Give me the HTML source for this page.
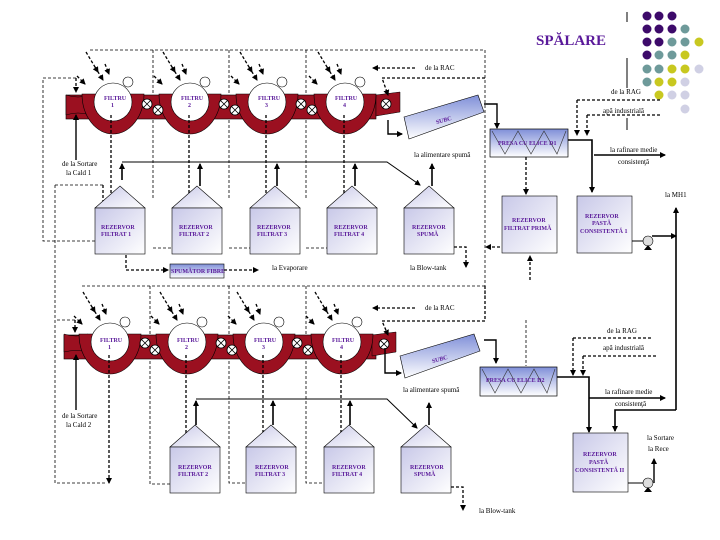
<!DOCTYPE html>
<html><head><meta charset="utf-8"><style>
html,body{margin:0;padding:0;background:#fff;}
svg{display:block;font-family:"Liberation Serif",serif;}
.t{font-size:7px;fill:#000;}
.p{font-size:6px;fill:#5a1a9a;font-weight:bold;}
</style></head><body>
<svg width="720" height="540" viewBox="0 0 720 540" xmlns="http://www.w3.org/2000/svg">
<defs>
<marker id="a" markerWidth="6" markerHeight="6" refX="5" refY="3" orient="auto" markerUnits="userSpaceOnUse"><path d="M0,0 L6,3 L0,6 Z" fill="#000"/></marker>
<linearGradient id="g" x1="0" y1="0" x2="1" y2="1"><stop offset="0" stop-color="#c8c8e8"/><stop offset="1" stop-color="#fff"/></linearGradient>
<linearGradient id="gb" x1="0" y1="0" x2="0" y2="1"><stop offset="0" stop-color="#7f8fd8"/><stop offset="1" stop-color="#fff"/></linearGradient>
<g id="valve"><circle r="5" fill="#fff" stroke="#000" stroke-width="0.8"/><path d="M-3.5,-3.5L3.5,3.5M3.5,-3.5L-3.5,3.5" stroke="#000" stroke-width="0.8"/></g>
<g id="drum">
<path d="M-31,-8 A31,40 0 0 0 31,-8 Z" fill="#9b1020" stroke="#000" stroke-width="0.6"/>
<circle cx="0" cy="0" r="19" fill="#fff" stroke="#000" stroke-width="0.6"/>
<circle cx="15" cy="-20" r="5" fill="#fff" stroke="#000" stroke-width="0.6"/>
<g stroke="#000" stroke-width="1.3" stroke-dasharray="3,2" fill="none">
<path d="M-27,-50 L-15,-30" marker-end="url(#a)"/><path d="M-18,-35 L-10,-22" marker-end="url(#a)"/><path d="M-8,-38 L-4,-28" marker-end="url(#a)"/><path d="M-36,-26 L-28,-18" marker-end="url(#a)"/></g>
</g>
<g id="tank"><path d="M0,22 L25,0 L50,22 Z" fill="url(#g)" stroke="#000" stroke-width="0.6"/><rect x="0" y="22" width="50" height="46" fill="url(#g)" stroke="#000" stroke-width="0.6"/></g>
</defs>

<text x="536" y="45" style="font-size:15px;font-weight:bold;fill:#5a1a9a">SPĂLARE</text>
<path d="M627,12V22M627,58V88M627,118V130" stroke="#000"/>
<g>
<circle cx="647" cy="16" r="4.5" fill="#3d0a6a"/><circle cx="659" cy="16" r="4.5" fill="#3d0a6a"/><circle cx="672" cy="16" r="4.5" fill="#3d0a6a"/>
<circle cx="647" cy="29" r="4.5" fill="#3d0a6a"/><circle cx="659" cy="29" r="4.5" fill="#3d0a6a"/><circle cx="672" cy="29" r="4.5" fill="#3d0a6a"/><circle cx="685" cy="29" r="4.5" fill="#6e9a9a"/>
<circle cx="647" cy="42" r="4.5" fill="#3d0a6a"/><circle cx="659" cy="42" r="4.5" fill="#3d0a6a"/><circle cx="672" cy="42" r="4.5" fill="#6e9a9a"/><circle cx="685" cy="42" r="4.5" fill="#6e9a9a"/><circle cx="699" cy="42" r="4.5" fill="#c8c820"/>
<circle cx="647" cy="55" r="4.5" fill="#3d0a6a"/><circle cx="659" cy="55" r="4.5" fill="#6e9a9a"/><circle cx="672" cy="55" r="4.5" fill="#6e9a9a"/><circle cx="685" cy="55" r="4.5" fill="#c8c820"/>
<circle cx="647" cy="69" r="4.5" fill="#6e9a9a"/><circle cx="659" cy="69" r="4.5" fill="#6e9a9a"/><circle cx="672" cy="69" r="4.5" fill="#c8c820"/><circle cx="685" cy="69" r="4.5" fill="#c8c820"/><circle cx="699" cy="69" r="4.5" fill="#d0d0e4"/>
<circle cx="647" cy="82" r="4.5" fill="#6e9a9a"/><circle cx="659" cy="82" r="4.5" fill="#c8c820"/><circle cx="672" cy="82" r="4.5" fill="#c8c820"/><circle cx="685" cy="82" r="4.5" fill="#d0d0e4"/>
<circle cx="659" cy="95" r="4.5" fill="#c8c820"/><circle cx="672" cy="95" r="4.5" fill="#d0d0e4"/><circle cx="685" cy="95" r="4.5" fill="#d0d0e4"/>
<circle cx="685" cy="109" r="4.5" fill="#d0d0e4"/>
</g>

<g stroke="#000" stroke-width="0.8" stroke-dasharray="3,2" fill="none">
<path d="M90,50 H485 V300"/><path d="M153,50V200"/><path d="M229,50V200"/><path d="M306,50V200"/>
<path d="M76,78 H43 V241 H100"/><path d="M55,185V320"/><path d="M55,185H105"/>
<path d="M153,248H172M229,248H250M306,248H327"/>
</g>
<rect x="66" y="95" width="310" height="24" fill="#9b1020" stroke="#000" stroke-width="0.6"/>
<path d="M66,95 Q78,99 90,95 V115 Q78,111 66,115 Z" fill="#9b1020" stroke="#000" stroke-width="0.5"/>
<path d="M376,95 L400,92 V112 L376,116 Z" fill="#9b1020" stroke="#000" stroke-width="0.5"/>
<use href="#drum" x="113" y="102"/><use href="#drum" x="190" y="102"/><use href="#drum" x="267" y="102"/><use href="#drum" x="345" y="102"/>
<use href="#valve" x="147" y="104"/><use href="#valve" x="158" y="110"/><use href="#valve" x="224" y="104"/><use href="#valve" x="235" y="110"/><use href="#valve" x="301" y="104"/><use href="#valve" x="312" y="110"/><use href="#valve" x="386" y="104"/>
<text class="p" x="104" y="100">FILTRU</text><text class="p" x="111" y="107">1</text>
<text class="p" x="181" y="100">FILTRU</text><text class="p" x="188" y="107">2</text>
<text class="p" x="258" y="100">FILTRU</text><text class="p" x="265" y="107">3</text>
<text class="p" x="335" y="100">FILTRU</text><text class="p" x="343" y="107">4</text>
<g stroke="#000" stroke-width="1.3" stroke-dasharray="3,2" fill="none">
<path d="M415,68H373" marker-end="url(#a)"/><path d="M485,78H382L388,95" marker-end="url(#a)"/>
<path d="M76,78V92" marker-end="url(#a)"/>
<path d="M111,115V245" marker-end="url(#a)"/><path d="M103,185V245" marker-end="url(#a)"/>
<path d="M189,115V245" marker-end="url(#a)"/><path d="M266,115V245" marker-end="url(#a)"/><path d="M344,115V245" marker-end="url(#a)"/>
<path d="M126,255V270H168" marker-end="url(#a)"/><path d="M224,270H258" marker-end="url(#a)"/>
<path d="M454,247H466V267" marker-end="url(#a)"/>
<path d="M526,157V194" marker-end="url(#a)"/><path d="M530,280V256" marker-end="url(#a)"/><path d="M500,247H486" marker-end="url(#a)"/>
<path d="M577,100V135" marker-end="url(#a)"/><path d="M587,115H662M587,115V135" marker-end="url(#a)"/>
<path d="M577,100H662"/>
</g>
<text class="t" x="425" y="70">de la RAC</text>
<use href="#tank" x="95" y="186"/><use href="#tank" x="172" y="186"/><use href="#tank" x="250" y="186"/><use href="#tank" x="327" y="186"/><use href="#tank" x="404" y="186"/>
<text class="p" x="101" y="229">REZERVOR</text><text class="p" x="101" y="236">FILTRAT 1</text>
<text class="p" x="179" y="229">REZERVOR</text><text class="p" x="179" y="236">FILTRAT 2</text>
<text class="p" x="257" y="229">REZERVOR</text><text class="p" x="257" y="236">FILTRAT 3</text>
<text class="p" x="334" y="229">REZERVOR</text><text class="p" x="334" y="236">FILTRAT 4</text>
<text class="p" x="412" y="229">REZERVOR</text><text class="p" x="417" y="236">SPUMĂ</text>
<g stroke="#000" stroke-width="1" fill="none">
<path d="M122,162H387L420,185" marker-end="url(#a)"/>
<path d="M122,180V164" stroke-width="1.6" marker-end="url(#a)"/><path d="M200,186V164" stroke-width="1.6" marker-end="url(#a)"/><path d="M277,186V164" stroke-width="1.6" marker-end="url(#a)"/><path d="M355,186V164" stroke-width="1.6" marker-end="url(#a)"/>
<path d="M432,186V164" stroke-width="1.6" marker-end="url(#a)"/>
<path d="M76,160V115" stroke-width="1.4" marker-end="url(#a)"/>
<path d="M388,120V134H402" stroke-width="1.4" marker-end="url(#a)"/>
<path d="M484,104H497V128" stroke-width="1.4" marker-end="url(#a)"/>
<path d="M568,140H592V192" stroke-width="1.6" marker-end="url(#a)"/>
<path d="M594,155H665" stroke-width="1.4" marker-end="url(#a)"/>
<path d="M632,241H645"/><path d="M652,236H676" stroke-width="1.4" marker-end="url(#a)"/>
<path d="M676,410V208" stroke-width="1.6" marker-end="url(#a)"/>
</g>
<polygon points="404,117 478,95 484,112 409,139" fill="url(#gb)" stroke="#000" stroke-width="0.6"/>
<text class="p" x="435" y="123" transform="rotate(-16 440 118)">SUBC</text>
<rect x="490" y="129" width="78" height="28" fill="url(#gb)" stroke="#000" stroke-width="0.7"/>
<path d="M492,131 L505,154 L518,131 L531,154 L544,131 L557,154 L566,131" stroke="#333" stroke-width="0.6" fill="none"/>
<text class="p" x="498" y="145">PRESA CU ELICE D1</text>
<rect x="502" y="196" width="55" height="57" fill="url(#g)" stroke="#000" stroke-width="0.6"/>
<text class="p" x="512" y="222">REZERVOR</text><text class="p" x="504" y="230">FILTRAT PRIMĂ</text>
<rect x="577" y="196" width="55" height="57" fill="url(#g)" stroke="#000" stroke-width="0.6"/>
<text class="p" x="585" y="218">REZERVOR</text><text class="p" x="592" y="225">PASTĂ</text><text class="p" x="580" y="233">CONSISTENTĂ 1</text>
<circle cx="648" cy="241" r="5" fill="#ddd" stroke="#000" stroke-width="0.6"/><path d="M644,250 L648,245 L652,250Z" fill="#000"/>
<rect x="170" y="264" width="54" height="14" fill="url(#gb)" stroke="#000" stroke-width="0.6"/>
<text class="p" x="171" y="273">SPUMĂTOR FIBRE</text>
<text class="t" x="272" y="270">la Evaporare</text>
<text class="t" x="410" y="270">la Blow-tank</text>
<text class="t" x="611" y="94">de la RAG</text>
<text class="t" x="603" y="113">apă industrială</text>
<text class="t" x="610" y="152">la rafinare medie</text><text class="t" x="618" y="164">consistenţă</text>
<text class="t" x="414" y="157">la alimentare spumă</text>
<text class="t" x="62" y="166">de la Sortare</text><text class="t" x="66" y="175">la Cald 1</text>
<text class="t" x="665" y="197">la MH1</text>

<g stroke="#000" stroke-width="0.8" stroke-dasharray="3,2" fill="none">
<path d="M82,286H485"/><path d="M150,286V484H170"/><path d="M229,286V483H246"/><path d="M306,286V483H324"/>
<path d="M75,320H55V483H106"/>
<path d="M526,320V366"/>
</g>
<rect x="64" y="335" width="312" height="24" fill="#9b1020" stroke="#000" stroke-width="0.6"/>
<path d="M64,334 Q76,338 88,334 V352 Q76,349 64,352 Z" fill="#9b1020" stroke="#000" stroke-width="0.5"/>
<path d="M372,335 L396,332 V352 L372,356 Z" fill="#9b1020" stroke="#000" stroke-width="0.5"/>
<use href="#drum" x="110" y="342"/><use href="#drum" x="187" y="342"/><use href="#drum" x="264" y="342"/><use href="#drum" x="342" y="342"/>
<use href="#valve" x="145" y="343"/><use href="#valve" x="155" y="350"/><use href="#valve" x="221" y="343"/><use href="#valve" x="232" y="350"/><use href="#valve" x="297" y="343"/><use href="#valve" x="308" y="350"/><use href="#valve" x="384" y="344"/>
<text class="p" x="100" y="342">FILTRU</text><text class="p" x="108" y="349">1</text>
<text class="p" x="177" y="342">FILTRU</text><text class="p" x="185" y="349">2</text>
<text class="p" x="254" y="342">FILTRU</text><text class="p" x="262" y="349">3</text>
<text class="p" x="332" y="342">FILTRU</text><text class="p" x="340" y="349">4</text>
<g stroke="#000" stroke-width="1.3" stroke-dasharray="3,2" fill="none">
<path d="M415,308H373" marker-end="url(#a)"/><path d="M485,286V321H382L388,335" marker-end="url(#a)"/>
<path d="M75,320V332" marker-end="url(#a)"/>
<path d="M109,355V483" marker-end="url(#a)"/>
<path d="M186,355V488" marker-end="url(#a)"/><path d="M263,355V488" marker-end="url(#a)"/><path d="M341,355V488" marker-end="url(#a)"/>
<path d="M451,487H463V510" marker-end="url(#a)"/>
<path d="M573,338H653M573,338V375" marker-end="url(#a)"/>
<path d="M583,356H656M583,356V375" marker-end="url(#a)"/>
</g>
<text class="t" x="425" y="310">de la RAC</text>
<use href="#tank" x="170" y="425"/><use href="#tank" x="246" y="425"/><use href="#tank" x="324" y="425"/><use href="#tank" x="401" y="425"/>
<text class="p" x="178" y="469">REZERVOR</text><text class="p" x="178" y="476">FILTRAT 2</text>
<text class="p" x="255" y="469">REZERVOR</text><text class="p" x="255" y="476">FILTRAT 3</text>
<text class="p" x="332" y="469">REZERVOR</text><text class="p" x="332" y="476">FILTRAT 4</text>
<text class="p" x="410" y="469">REZERVOR</text><text class="p" x="414" y="476">SPUMĂ</text>
<g stroke="#000" stroke-width="1" fill="none">
<path d="M196,399H387L417,428" marker-end="url(#a)"/>
<path d="M196,425V401" stroke-width="1.6" marker-end="url(#a)"/><path d="M273,425V401" stroke-width="1.6" marker-end="url(#a)"/><path d="M350,425V401" stroke-width="1.6" marker-end="url(#a)"/>
<path d="M429,425V403" stroke-width="1.6" marker-end="url(#a)"/>
<path d="M76,410V355" stroke-width="1.4" marker-end="url(#a)"/>
<path d="M385,348V373H401" stroke-width="1.4" marker-end="url(#a)"/>
<path d="M484,340H496V363" stroke-width="1.4" marker-end="url(#a)"/>
<path d="M557,377H589V432" stroke-width="1.6" marker-end="url(#a)"/>
<path d="M589,398H665" stroke-width="1.4" marker-end="url(#a)"/>
<path d="M676,410H615V431" stroke-width="1.6" marker-end="url(#a)"/>
<path d="M628,483H643"/><path d="M654,483V459" stroke-width="1.4" marker-end="url(#a)"/>
</g>
<polygon points="400,356 474,334 480,351 405,378" fill="url(#gb)" stroke="#000" stroke-width="0.6"/>
<text class="p" x="431" y="362" transform="rotate(-16 436 357)">SUBC</text>
<rect x="480" y="367" width="77" height="29" fill="url(#gb)" stroke="#000" stroke-width="0.7"/>
<path d="M482,369 L495,393 L508,369 L521,393 L534,369 L547,393 L555,369" stroke="#333" stroke-width="0.6" fill="none"/>
<text class="p" x="486" y="382">PRESA CU ELICE D2</text>
<rect x="573" y="433" width="55" height="59" fill="url(#g)" stroke="#000" stroke-width="0.6"/>
<text class="p" x="583" y="456">REZERVOR</text><text class="p" x="589" y="464">PASTĂ</text><text class="p" x="575" y="472">CONSISTENTĂ II</text>
<circle cx="648" cy="483" r="5" fill="#ddd" stroke="#000" stroke-width="0.6"/><path d="M644,492 L648,487 L652,492Z" fill="#000"/>
<text class="t" x="607" y="333">de la RAG</text>
<text class="t" x="603" y="350">apă industrială</text>
<text class="t" x="605" y="394">la rafinare medie</text><text class="t" x="615" y="406">consistenţă</text>
<text class="t" x="403" y="392">la alimentare spumă</text>
<text class="t" x="62" y="418">de la Sortare</text><text class="t" x="66" y="427">la Cald 2</text>
<text class="t" x="647" y="440">la Sortare</text><text class="t" x="648" y="451">la Rece</text>
<text class="t" x="479" y="513">la Blow-tank</text>
</svg>
</body></html>
